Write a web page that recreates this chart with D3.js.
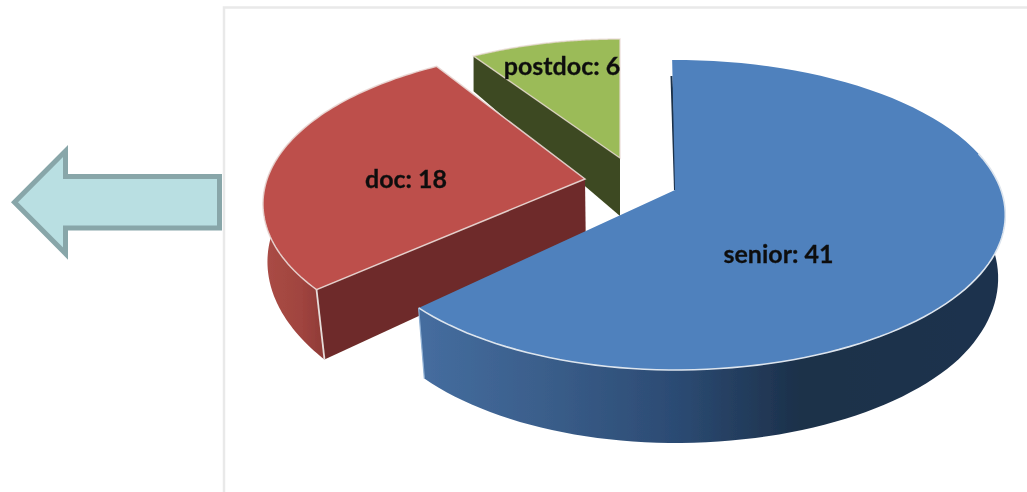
<!DOCTYPE html>
<html><head><meta charset="utf-8">
<script src="https://cdn.jsdelivr.net/npm/d3@7"></script>
<style>html,body{margin:0;padding:0;background:#fff;overflow:hidden}svg{display:block}</style>
</head><body><svg id="c" width="1027" height="492"></svg>
<script>
const categories = ["senior","doc","postdoc"];
const values = [41,18,6];

const W=1027,H=492;
const svg=d3.select("#c");
const defs=svg.append("defs");
const blur=defs.append("filter").attr("id","soft").attr("x","-5%").attr("y","-5%").attr("width","110%").attr("height","110%");
blur.append("feGaussianBlur").attr("stdDeviation",0.55);
function grad(id,x1,x2,stops){
  const g=defs.append("linearGradient").attr("id",id).attr("gradientUnits","userSpaceOnUse")
    .attr("x1",x1).attr("x2",x2).attr("y1",0).attr("y2",0);
  stops.forEach(s=>g.append("stop").attr("offset",s[0]).attr("stop-color",s[1]));
}
grad("blueWall",420,1000,[[0,"#456d9f"],[.2,"#3b5f8c"],[.45,"#2b4a72"],[.66,"#1c3049"],[1,"#1e334e"]]);
grad("redWall",265,326,[[0,"#aa4c45"],[.6,"#a0443f"],[1,"#8d3a36"]]);

// perspective of the tilted disc
const RX=326, RY=151, PERSP=0.161;
const project=(t,r=1)=>{
  const sx=Math.sin(t)*r, sy=-Math.cos(t)*r, d=1-PERSP*sy;
  return [RX*sx/d, RY*sy/d];
};
const depthAt=d3.scaleLinear().domain([57,158,290,370]).range([35,58,70,73]).clamp(true);
const docShift=d3.scaleLinear().domain([180,290]).range([0.008,0.022]).clamp(true);

const pie=d3.pie().sort(null).startAngle(0).endAngle(2*Math.PI)(values);
const rad=Math.PI/180;
const layout=[
 {apex:[675,190],sx:1,    sl:0.97, sy:1,    startNudge:-0.6,endNudge:-1,  shift:()=>0.022,top:"#4f81bd",wall:"url(#blueWall)",side:"#1c3049",label:[778.5,257]},
 {apex:[585,179],sx:0.975,sl:0.975,sy:1,    startNudge:2,   endNudge:1.2, shift:docShift, top:"#bd4f4b",wall:"url(#redWall)", side:"#6e2c29",label:[406,182]},
 {apex:[620,158],sx:0.93, sl:0.93, sy:0.915,startNudge:0,   endNudge:0,   shift:()=>0,    top:"#9bbb59",wall:"#3e4a20",        side:"#3e4a20",label:[562,69]}
];
const slices=pie.map((p,i)=>{
  const L=layout[i], a0=p.startAngle+L.startNudge*rad, a1=p.endAngle+L.endNudge*rad;
  const at=(t,r=1)=>{const q=project(t,r);return [L.apex[0]+q[0]*(q[0]<0?L.sl:L.sx),L.apex[1]+q[1]*L.sy];};
  const lower=p=>[p[0]+(680-p[0])*L.shift(p[1]), p[1]+depthAt(p[1])];
  return {name:categories[i],value:values[i],a0,a1,at,L,lower};
});
const line=d3.line().curve(d3.curveLinear);
const angles=(a,b,n=80)=>d3.range(n+1).map(k=>a+(b-a)*k/n);

const root=svg.append("g").attr("filter","url(#soft)");

// slide frame
root.append("path").attr("d",line([[224,H],[224,7.5],[W,7.5]])).attr("fill","none").attr("stroke","#e9e9e9").attr("stroke-width",2.5);

// draw back to front: postdoc, doc, senior
[2,1,0].forEach(i=>{
  const s=slices[i],L=s.L,g=root.append("g").attr("class","slice-"+s.name);
  const wallBand=pts=>line(pts.concat(pts.map(s.lower).reverse()))+"Z";
  const arcPts=angles(s.a0,s.a1).map(t=>s.at(t));
  if(i===0){
    g.append("path").attr("d",wallBand(angles(Math.PI*0.42,s.a1).map(t=>s.at(t)))).attr("fill",L.wall);
    const tip=s.at(s.a0,0.86);
    g.append("path").attr("d",line([[tip[0]-2,tip[1]],[L.apex[0]-1,L.apex[1]],[L.apex[0]+2,L.apex[1]],[tip[0],tip[1]]])+"Z").attr("fill","#1c3049");
  }
  if(i===1){
    g.append("path").attr("d",wallBand(angles(s.a0,Math.PI*1.62).map(t=>s.at(t)))).attr("fill",L.wall);
    const c=s.at(s.a0);
    g.append("path").attr("d",wallBand([c,L.apex])).attr("fill",L.side);
  }
  if(i===2){
    const c=s.at(s.a0);
    g.append("path").attr("d",wallBand([c,L.apex])).attr("fill",L.side);
  }
  const outline=line([L.apex].concat(arcPts))+"Z";
  g.append("path").attr("d",outline).attr("fill",L.top);
  if(i===0){
    const front=angles(Math.PI*0.42,s.a1).map(t=>s.at(t));
    g.append("path").attr("d",line(front)).attr("fill","none").attr("stroke","#dde5ee").attr("stroke-width",1.6);
    const c=s.at(s.a1);
    g.append("path").attr("d",line([c,s.lower(c)])).attr("fill","none").attr("stroke","#8fb0d4").attr("stroke-width",1.2);
  } else {
    g.append("path").attr("d",outline).attr("fill","none").attr("stroke","#ead9d6").attr("stroke-opacity",i===1?0.9:0.75).attr("stroke-width",1.5);
    const c=s.at(s.a0);
    if(i===1) g.append("path").attr("d",line([c,s.lower(c)])).attr("fill","none").attr("stroke","#e6dcda").attr("stroke-width",1.8);
  }
});

// labels
slices.forEach(s=>{
  root.append("text").attr("x",s.L.label[0]).attr("y",s.L.label[1])
    .attr("text-anchor","middle").attr("dominant-baseline","middle")
    .attr("font-family","Lato,'Open Sans',sans-serif").attr("font-weight",700).attr("font-size",25)
    .attr("fill","#111").attr("stroke","#111").attr("stroke-width",0.3).text(s.name+": "+s.value);
});

// arrow
const arrow=[[14.5,202.3],[65.5,151],[65.5,176.5],[219.5,176.5],[219.5,228],[65.5,228],[65.5,253.6]];
root.append("path").attr("d",line(arrow)+"Z").attr("fill","#b9dfe2").attr("stroke","#88a6a9").attr("stroke-width",5).attr("stroke-miterlimit",8);
</script></body></html>
